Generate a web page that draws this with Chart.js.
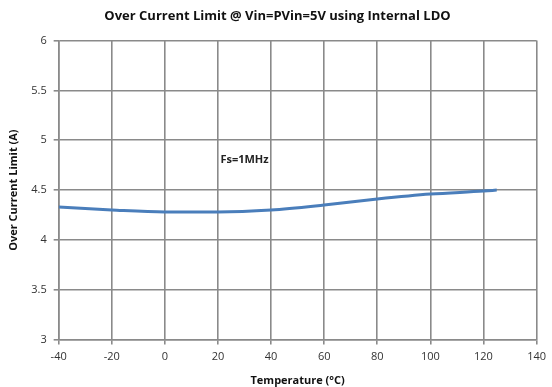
<!DOCTYPE html>
<html>
<head>
<meta charset="utf-8">
<script src="https://cdn.jsdelivr.net/npm/chart.js@4"></script>
<style>
  body { margin: 0; background: #fff; }
  #wrap { width: 552px; height: 387px; position: relative; }
</style>
</head>
<body>
<div id="wrap"><canvas id="chart"></canvas></div>
<script>
// temperature (°C) vs over current limit (A)
const temps = [-40, -20, 0, 20, 40, 60, 80, 100, 120, 125];
const ocl = [4.33, 4.30, 4.28, 4.28, 4.30, 4.35, 4.41, 4.46, 4.49, 4.50];
const xTicks = [-40, -20, 0, 20, 40, 60, 80, 100, 120, 140];
const yTicks = [3, 3.5, 4, 4.5, 5, 5.5, 6];
const noteText = 'Fs=1MHz';
const notePos = { x: 30, y: 4.8 };

const FONT = '"Open Sans", "Liberation Sans", sans-serif';

// draws the "Fs=1MHz" note at a data position
const notePlugin = {
    id: 'note',
    afterDatasetsDraw(chart) {
        const ctx = chart.ctx;
        const x = chart.scales.x.getPixelForValue(notePos.x);
        const y = chart.scales.y.getPixelForValue(notePos.y);
        ctx.save();
        ctx.font = 'bold 11px ' + FONT;
        ctx.fillStyle = '#222';
        ctx.textAlign = 'center';
        ctx.textBaseline = 'middle';
        ctx.fillText(noteText, x, y);
        ctx.restore();
    }
};

new Chart(document.getElementById('chart'), {
    type: 'line',
    data: {
        datasets: [{
            label: 'OCL',
            data: temps.map((t, i) => ({ x: t, y: ocl[i] })),
            borderColor: '#4a7ebb',
            borderWidth: 3,
            pointRadius: 0,
            tension: 0.4,
            cubicInterpolationMode: 'monotone',
            fill: false
        }]
    },
    options: {
        responsive: true,
        maintainAspectRatio: false,
        animation: false,
        layout: { padding: { left: 3, right: 0, top: 6, bottom: 0 } },
        plugins: {
            legend: { display: false },
            tooltip: { enabled: false },
            title: {
                display: true,
                text: 'Over Current Limit @ Vin=PVin=5V using Internal LDO',
                color: '#111',
                font: { family: FONT, size: 13, weight: 'bold' },
                padding: { top: 2, bottom: 17 }
            }
        },
        scales: {
            x: {
                type: 'linear',
                min: -40,
                max: 140,
                afterBuildTicks: axis => { axis.ticks = xTicks.map(v => ({ value: v })); },
                grid: { color: '#8a8a8a', lineWidth: 1.6, tickLength: 5 },
                border: { color: '#8a8a8a', width: 1.6 },
                ticks: { color: '#333', font: { family: FONT, size: 11 }, maxRotation: 0, padding: 6 },
                title: {
                    display: true,
                    text: 'Temperature (°C)',
                    color: '#111',
                    font: { family: FONT, size: 11, weight: 'bold' },
                    padding: { top: 4, bottom: 0 }
                }
            },
            y: {
                min: 3,
                max: 6,
                afterBuildTicks: axis => { axis.ticks = yTicks.map(v => ({ value: v })); },
                grid: { color: '#8a8a8a', lineWidth: 1.6, tickLength: 5 },
                border: { color: '#8a8a8a', width: 1.6 },
                ticks: {
                    color: '#333',
                    font: { family: FONT, size: 11 },
                    padding: 7,
                    callback: v => String(v)
                },
                title: {
                    display: true,
                    text: 'Over Current Limit (A)',
                    color: '#111',
                    font: { family: FONT, size: 11, weight: 'bold' },
                    padding: { bottom: 4 }
                }
            }
        }
    },
    plugins: [notePlugin]
});
</script>
</body>
</html>
